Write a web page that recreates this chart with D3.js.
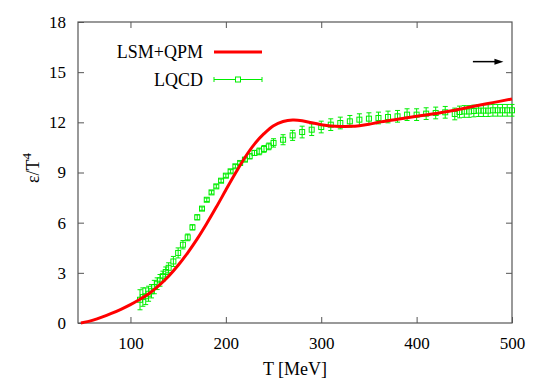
<!DOCTYPE html>
<html>
<head>
<meta charset="utf-8">
<script src="https://cdn.jsdelivr.net/npm/d3@7"></script>
<style>
  body { margin: 0; background: #fff; }
  svg text { font-family: "Liberation Serif", "Times New Roman", serif; }
</style>
</head>
<body>
<svg width="545" height="382"></svg>
<script>
// LSM+QPM model curve (T in MeV, eps/T^4)
const modelT = [48, 55, 60, 70, 80, 90, 100, 110, 120, 130, 140, 150, 160, 170, 180, 190, 200,
  210, 220, 230, 240, 250, 260, 270, 280, 290, 300, 310, 320, 330, 340, 350, 360, 380, 400,
  420, 440, 460, 480, 500];
const modelE = [0.0, 0.08, 0.16, 0.35, 0.57, 0.82, 1.1, 1.42, 1.78, 2.25, 2.8, 3.45, 4.2, 5.03,
  5.95, 6.93, 7.95, 8.95, 9.9, 10.7, 11.32, 11.8, 12.05, 12.14, 12.1, 11.97, 11.86, 11.78,
  11.75, 11.76, 11.8, 11.88, 12.0, 12.18, 12.36, 12.53, 12.72, 12.96, 13.18, 13.4];

// lattice QCD points with errors
const lqcdT = [110, 113, 116, 119, 122, 125, 128, 131, 134, 137, 140, 145, 150, 155, 160,
  165, 170, 175, 180, 185, 190, 195, 200, 205, 210, 215, 220, 225, 230, 235, 240, 245, 250,
  260, 270, 280, 290, 300, 310, 320, 330, 340, 350, 360, 370, 380, 390, 400, 410, 420, 430,
  440, 445, 450, 455, 460, 465, 470, 475, 480, 485, 490, 495, 500];
const lqcdE = [1.39, 1.55, 1.6, 1.75, 1.9, 2.15, 2.35, 2.55, 2.8, 3.05, 3.3, 3.68, 4.19,
  4.68, 5.12, 5.72, 6.32, 6.84, 7.37, 7.81, 8.17, 8.51, 8.81, 9.07, 9.37, 9.57, 9.77, 9.97,
  10.17, 10.26, 10.41, 10.56, 10.77, 10.96, 11.22, 11.42, 11.56, 11.72, 11.86, 11.96, 12.06,
  12.16, 12.22, 12.26, 12.32, 12.36, 12.46, 12.46, 12.52, 12.56, 12.6, 12.5, 12.62, 12.65,
  12.65, 12.68, 12.7, 12.7, 12.7, 12.72, 12.72, 12.72, 12.72, 12.72];
const lqcdErr = [0.6, 0.55, 0.5, 0.45, 0.4, 0.4, 0.35, 0.35, 0.3, 0.3, 0.3, 0.3, 0.3,
  0.25, 0.2, 0.15, 0.15, 0.1, 0.1, 0.1, 0.1, 0.1, 0.1, 0.1, 0.1, 0.1, 0.1, 0.15, 0.15, 0.2,
  0.2, 0.2, 0.25, 0.3, 0.3, 0.35, 0.35, 0.35, 0.35, 0.35, 0.35, 0.35, 0.35, 0.35, 0.35, 0.35,
  0.35, 0.35, 0.35, 0.35, 0.35, 0.35, 0.35, 0.35, 0.35, 0.35, 0.35, 0.35, 0.35, 0.35, 0.35,
  0.35, 0.35, 0.35];

// Stefan-Boltzmann arrow
const arrowT = [459, 491];
const arrowE = 15.63;

const xTicks = [100, 200, 300, 400, 500];
const yTicks = [0, 3, 6, 9, 12, 15, 18];

const svg = d3.select("svg");
const pLeft = 78, pRight = 512, pTop = 22, pBottom = 323;

const x = d3.scaleLinear().domain([45, 500]).range([pLeft, pRight]);
const y = d3.scaleLinear().domain([0, 18]).range([pBottom, pTop]);

const frame = "#555";
const serif = "'Liberation Serif', 'Times New Roman', serif";

// axes, ticks pointing inward on all four sides
const gx = svg.append("g").attr("transform", `translate(0,${pBottom})`)
  .call(d3.axisBottom(x).tickValues(xTicks).tickSizeInner(-6).tickSizeOuter(0).tickPadding(14));
const gxt = svg.append("g").attr("transform", `translate(0,${pTop})`)
  .call(d3.axisTop(x).tickValues(xTicks.slice(0, -1)).tickSizeInner(-6).tickSizeOuter(0).tickFormat(""));
const gy = svg.append("g").attr("transform", `translate(${pLeft},0)`)
  .call(d3.axisLeft(y).tickValues(yTicks).tickSizeInner(-6).tickSizeOuter(0).tickPadding(12));
const gyr = svg.append("g").attr("transform", `translate(${pRight},0)`)
  .call(d3.axisRight(y).tickValues(yTicks.slice(1, -1)).tickSizeInner(-6).tickSizeOuter(0).tickFormat(""));

[gx, gxt, gy, gyr].forEach(g => {
  g.attr("font-family", serif).attr("font-size", 17);
  g.select(".domain").remove();
  g.selectAll(".tick line").attr("stroke", frame);
  g.selectAll(".tick text").attr("fill", "#000");
});

svg.append("rect")
  .attr("x", pLeft).attr("y", pTop)
  .attr("width", pRight - pLeft).attr("height", pBottom - pTop)
  .attr("fill", "none").attr("stroke", frame).attr("stroke-width", 1.2);

// axis titles
svg.append("text")
  .attr("x", (pLeft + pRight) / 2).attr("y", 375)
  .attr("text-anchor", "middle").attr("font-family", serif).attr("font-size", 18)
  .text("T [MeV]");

const yl = svg.append("text")
  .attr("transform", "translate(39,168) rotate(-90)")
  .attr("text-anchor", "middle")
  .attr("font-family", "'Liberation Sans', Arial, sans-serif").attr("font-size", 18);
yl.append("tspan").text("ε/T");
yl.append("tspan").attr("dy", -8).attr("font-size", 13).text("4");

// LQCD error bars and squares
const lqcd = lqcdT.map((t, i) => ({ t: t, e: lqcdE[i], err: lqcdErr[i] }));
const green = "#00ee00";
const pts = svg.append("g").attr("stroke", green).attr("fill", "none").attr("stroke-width", 1);

pts.selectAll(".bar")
  .data(lqcd)
  .enter()
  .append("path")
  .attr("class", "bar")
  .attr("d", d => {
    const cx = x(d.t), y1 = y(d.e - d.err), y2 = y(d.e + d.err);
    return `M${cx},${y1}V${y2}M${cx - 2.5},${y1}h5M${cx - 2.5},${y2}h5`;
  });

pts.selectAll(".sq")
  .data(lqcd)
  .enter()
  .append("rect")
  .attr("class", "sq")
  .attr("x", d => x(d.t) - 2.5)
  .attr("y", d => y(d.e) - 2.5)
  .attr("width", 5).attr("height", 5);

// model curve
const line = d3.line()
  .x((d, i) => x(modelT[i]))
  .y(d => y(d))
  .curve(d3.curveCatmullRom);

svg.append("path")
  .attr("d", line(modelE))
  .attr("fill", "none")
  .attr("stroke", "#ff0000")
  .attr("stroke-width", 3);

// arrow
const ay = y(arrowE), ax1 = x(arrowT[0]), ax2 = x(arrowT[1]);
svg.append("line")
  .attr("x1", ax1).attr("x2", ax2 - 6).attr("y1", ay).attr("y2", ay)
  .attr("stroke", "#000").attr("stroke-width", 1.5);
svg.append("path")
  .attr("d", `M${ax2},${ay}L${ax2 - 9},${ay - 3}L${ax2 - 9},${ay + 3}Z`)
  .attr("fill", "#000");

// legend
const legend = svg.append("g").attr("font-family", serif).attr("font-size", 18);
legend.append("text").attr("x", 203).attr("y", 58).attr("text-anchor", "end").text("LSM+QPM");
legend.append("line").attr("x1", 214).attr("x2", 262).attr("y1", 52).attr("y2", 52)
  .attr("stroke", "#ff0000").attr("stroke-width", 3);

legend.append("text").attr("x", 203).attr("y", 86).attr("text-anchor", "end").text("LQCD");
legend.append("path")
  .attr("d", "M214,79.5H262M214,77V82M262,77V82")
  .attr("stroke", green).attr("fill", "none");
legend.append("rect").attr("x", 235.5).attr("y", 77).attr("width", 5).attr("height", 5)
  .attr("stroke", green).attr("fill", "#fff");
</script>
</body>
</html>
